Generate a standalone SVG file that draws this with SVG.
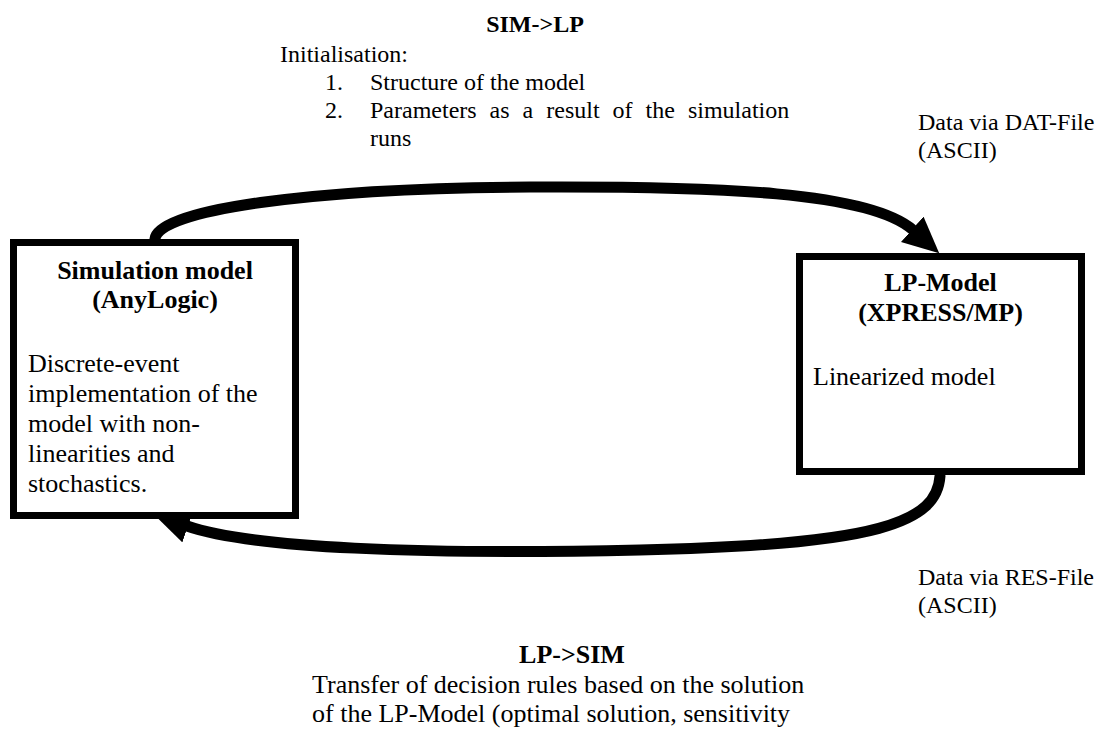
<svg xmlns="http://www.w3.org/2000/svg" width="1104" height="731" viewBox="0 0 1104 731">
  <style>
    text { font-family: "Liberation Serif", "Times New Roman", serif; fill: #000; }
    .top { font-size: 24px; }
    .bottom { font-size: 26px; }
    .side { font-size: 24px; }
    .body { font-size: 26px; }
    .head { font-size: 26px; font-weight: bold; }
    .box { fill: #fff; stroke: #000; stroke-width: 7; }
    .flow { fill: none; stroke: #000; stroke-width: 11; stroke-linecap: round; }
  </style>
  <defs>
    <marker id="head" viewBox="0 0 36 34" refX="1" refY="17" markerWidth="36" markerHeight="34" markerUnits="userSpaceOnUse" orient="auto">
      <path d="M0,0 L36,17 L0,34 z" fill="#000"/>
    </marker>
  </defs>

  <!-- transfer arrows between the two models (drawn first so the boxes sit on top) -->
  <g id="connectors">
    <path class="flow" d="M155,239 C157,210 310,188 530,187 C720,186 870,192 913,230" marker-end="url(#head)"/>
    <path class="flow" d="M940,476 C937,522 880,545 640,550 C420,555 250,548 187,526" marker-end="url(#head)"/>
  </g>

  <!-- simulation side -->
  <g id="sim-model">
    <rect class="box" x="13.5" y="242.5" width="282" height="273"/>
    <text class="head" x="155" y="279" text-anchor="middle">Simulation model</text>
    <text class="head" x="155" y="308" text-anchor="middle">(AnyLogic)</text>
    <text class="body" x="28" y="372">Discrete-event</text>
    <text class="body" x="28" y="402">implementation of the</text>
    <text class="body" x="28" y="432">model with non-</text>
    <text class="body" x="28" y="462">linearities and</text>
    <text class="body" x="28" y="492">stochastics.</text>
  </g>

  <!-- optimisation side -->
  <g id="lp-model">
    <rect class="box" x="799.5" y="256.5" width="282" height="215"/>
    <text class="head" x="940.5" y="291" text-anchor="middle">LP-Model</text>
    <text class="head" x="940.5" y="321" text-anchor="middle">(XPRESS/MP)</text>
    <text class="body" x="813" y="385">Linearized model</text>
  </g>

  <!-- SIM to LP annotation -->
  <g id="sim-to-lp">
    <text class="top" x="535" y="32" text-anchor="middle" font-weight="bold">SIM-&gt;LP</text>
    <text class="top" x="280" y="62">Initialisation:</text>
    <text class="top" x="325" y="90">1.</text>
    <text class="top" x="370" y="90">Structure of the model</text>
    <text class="top" x="325" y="118">2.</text>
    <text class="top" x="370" y="118" word-spacing="7">Parameters as a result of the simulation</text>
    <text class="top" x="370" y="146">runs</text>
  </g>

  <g id="dat-file">
    <text class="side" x="918" y="130">Data via DAT-File</text>
    <text class="side" x="918" y="158">(ASCII)</text>
  </g>

  <g id="res-file">
    <text class="side" x="918" y="585">Data via RES-File</text>
    <text class="side" x="918" y="613">(ASCII)</text>
  </g>

  <!-- LP to SIM annotation -->
  <g id="lp-to-sim">
    <text class="bottom" x="572" y="663" text-anchor="middle" font-weight="bold">LP-&gt;SIM</text>
    <text class="bottom" x="312" y="693">Transfer of decision rules based on the solution</text>
    <text class="bottom" x="312" y="722">of the LP-Model (optimal solution, sensitivity</text>
  </g>
</svg>
